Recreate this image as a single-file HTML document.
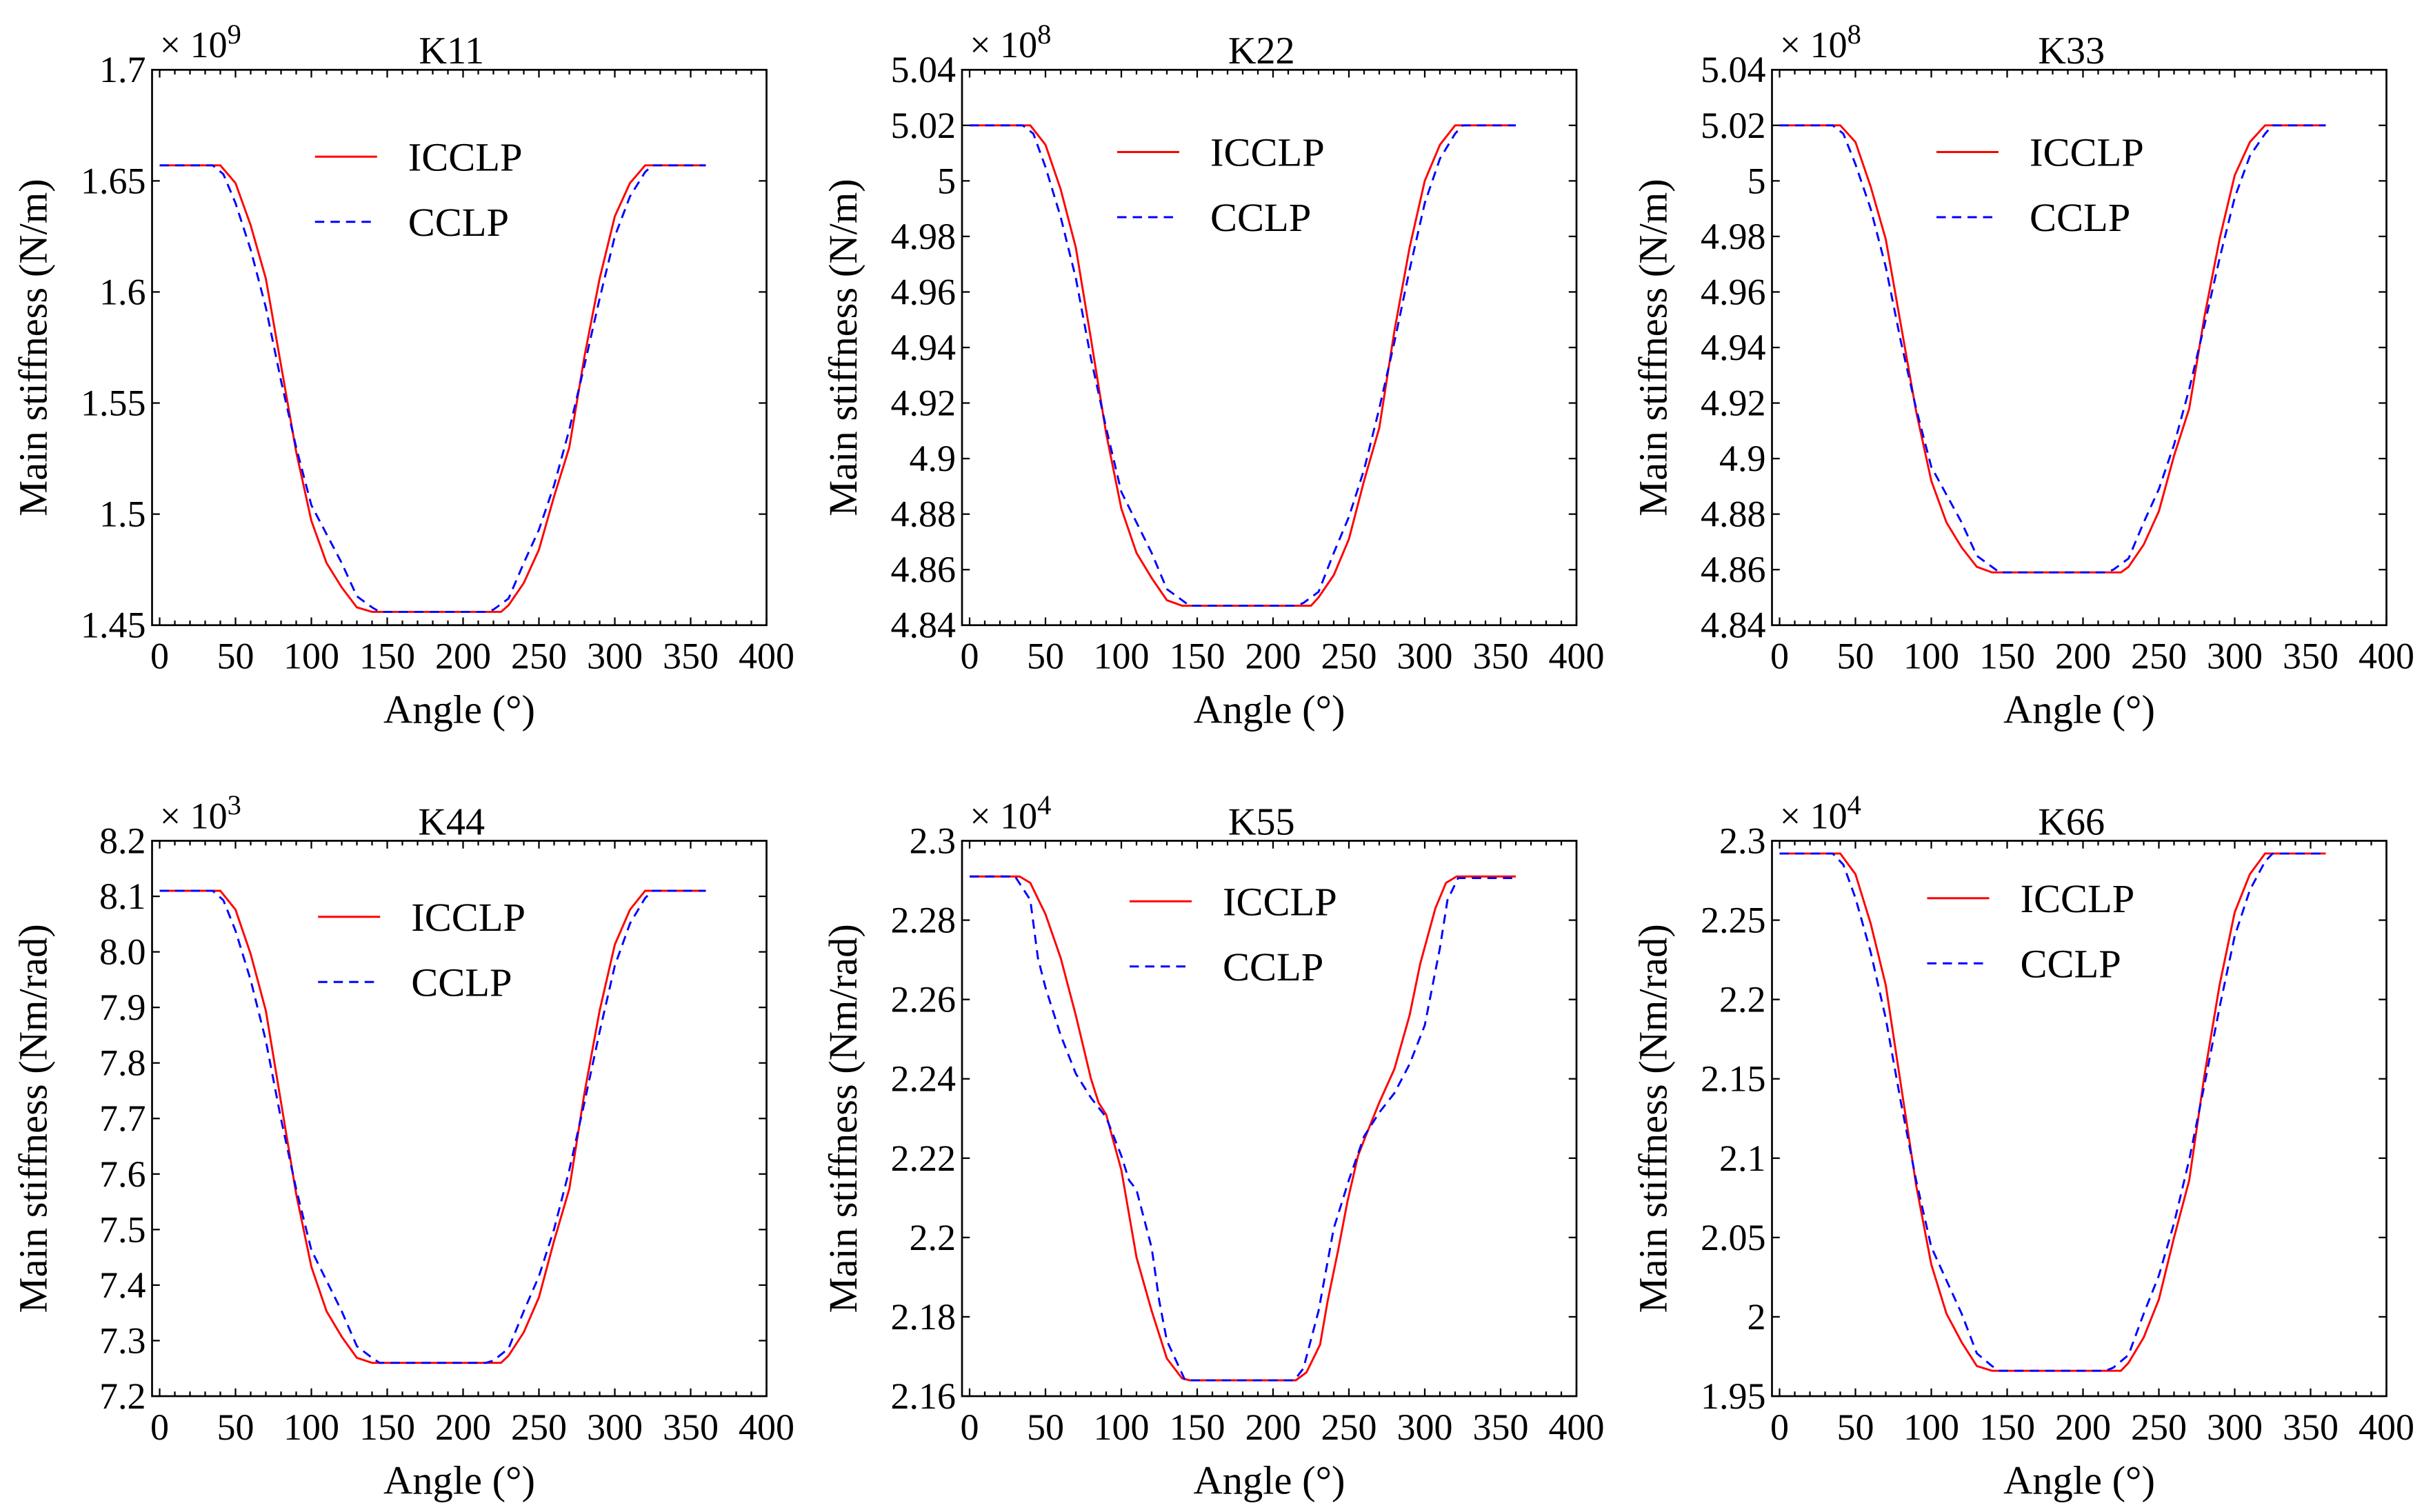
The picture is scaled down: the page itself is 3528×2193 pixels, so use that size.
<!DOCTYPE html>
<html><head><meta charset="utf-8">
<style>html,body{margin:0;padding:0;background:#fff}svg{display:block}</style>
</head><body style="font-family:'Liberation Serif',serif">
<svg id="fig" width="3528" height="2193" viewBox="0 0 1568 974.67" xmlns="http://www.w3.org/2000/svg" style="font-family:'Liberation Serif',serif"></svg>
<script>
// ---- shared angle grids ----
const angI = [0,40,50,60,70,80,90,100,110,120,130,140,225,230,240,250,260,270,280,290,300,310,320,360];
const angC = [0,35,42,50,60,70,80,90,100,110,120,130,140,145,215,220,230,240,250,260,270,280,290,300,310,320,325,360];
// ---- K11 ----
const k11I = [1.657,1.657,1.649,1.630,1.606,1.567,1.528,1.497,1.478,1.467,1.458,1.456,1.456,1.459,1.469,1.484,1.508,1.530,1.571,1.606,1.634,1.649,1.657,1.657];
const k11C = [1.657,1.657,1.653,1.640,1.619,1.593,1.560,1.530,1.504,1.491,1.478,1.463,1.458,1.456,1.456,1.457,1.462,1.478,1.493,1.513,1.538,1.567,1.597,1.625,1.643,1.654,1.657,1.657];
const k11Ticks = [1.45,1.5,1.55,1.6,1.65,1.7];
const k11Labels = ["1.45","1.5","1.55","1.6","1.65","1.7"];
// ---- K22 ----
const k22I = [5.020,5.020,5.013,4.997,4.976,4.943,4.909,4.882,4.866,4.857,4.849,4.847,4.847,4.850,4.858,4.871,4.892,4.911,4.946,4.976,5.000,5.013,5.020,5.020];
const k22C = [5.020,5.020,5.017,5.005,4.987,4.965,4.936,4.911,4.888,4.877,4.866,4.853,4.849,4.847,4.847,4.848,4.852,4.866,4.879,4.896,4.918,4.942,4.968,4.992,5.008,5.017,5.020,5.020];
const k22Ticks = [4.84,4.86,4.88,4.9,4.92,4.94,4.96,4.98,5,5.02,5.04];
const k22Labels = ["4.84","4.86","4.88","4.9","4.92","4.94","4.96","4.98","5","5.02","5.04"];
// ---- K33 ----
const k33I = [5.020,5.020,5.014,4.998,4.979,4.948,4.917,4.892,4.877,4.868,4.861,4.859,4.859,4.861,4.869,4.881,4.901,4.918,4.951,4.979,5.002,5.014,5.020,5.020];
const k33C = [5.020,5.020,5.017,5.006,4.990,4.969,4.942,4.918,4.897,4.887,4.877,4.865,4.861,4.859,4.859,4.860,4.864,4.877,4.889,4.905,4.925,4.948,4.972,4.994,5.009,5.017,5.020,5.020];
// ---- K44 ----
const k44I = [8.110,8.110,8.076,7.996,7.894,7.729,7.564,7.433,7.353,7.307,7.269,7.260,7.260,7.273,7.315,7.378,7.480,7.573,7.746,7.894,8.013,8.076,8.110,8.110];
const k44C = [8.110,8.110,8.093,8.038,7.949,7.840,7.699,7.573,7.463,7.408,7.353,7.290,7.269,7.260,7.260,7.264,7.286,7.353,7.416,7.501,7.607,7.729,7.856,7.975,8.051,8.097,8.110,8.110];
const k44Ticks = [7.2,7.3,7.4,7.5,7.6,7.7,7.8,7.9,8.0,8.1,8.2];
const k44Labels = ["7.2","7.3","7.4","7.5","7.6","7.7","7.8","7.9","8.0","8.1","8.2"];
// ---- K55 ----
const k55AngI = [0,33,40,50,60,70,80,85,90,95,100,105,110,120,130,140,145,215,222,231,236,243,249,256,261,270,280,290,297,307,314,321,360];
const k55I = [2.291,2.291,2.2894,2.2815,2.2705,2.256,2.240,2.234,2.231,2.224,2.217,2.206,2.195,2.1815,2.1695,2.1645,2.164,2.164,2.166,2.173,2.184,2.197,2.209,2.2206,2.2255,2.234,2.2425,2.256,2.269,2.283,2.2894,2.291,2.291];
const k55AngC = [0,30,40,45,50,60,70,80,90,100,105,110,120,125,130,140,142,214,220,230,240,250,260,270,280,290,300,310,315,322,360];
const k55C = [2.291,2.291,2.2851,2.2705,2.263,2.251,2.2413,2.2352,2.2303,2.2206,2.2145,2.212,2.1974,2.184,2.174,2.1657,2.164,2.164,2.167,2.1815,2.2023,2.2145,2.2255,2.2315,2.2364,2.2437,2.2535,2.273,2.2851,2.2906,2.2906];
const k55Ticks = [2.16,2.18,2.2,2.22,2.24,2.26,2.28,2.3];
const k55Labels = ["2.16","2.18","2.2","2.22","2.24","2.26","2.28","2.3"];
// ---- K66 ----
const k66I = [2.292,2.292,2.279,2.248,2.209,2.146,2.083,2.033,2.002,1.984,1.969,1.966,1.966,1.971,1.987,2.011,2.050,2.086,2.152,2.209,2.255,2.279,2.292,2.292];
const k66C = [2.292,2.292,2.285,2.264,2.230,2.188,2.135,2.086,2.044,2.023,2.002,1.977,1.969,1.966,1.966,1.968,1.976,2.002,2.026,2.059,2.099,2.146,2.195,2.240,2.269,2.287,2.292,2.292];
const k66Ticks = [1.95,2,2.05,2.1,2.15,2.2,2.25,2.3];
const k66Labels = ["1.95","2","2.05","2.1","2.15","2.2","2.25","2.3"];
const xTicks = [0,50,100,150,200,250,300,350,400];
const xLabels = ["0","50","100","150","200","250","300","350","400"];

const NS = "http://www.w3.org/2000/svg";
const svg = document.getElementById('fig');
const FONT = "font-family:'Liberation Serif','Times New Roman',serif";
function mk(tag, attrs, parent, txt){
  const e = document.createElementNS(NS, tag);
  for (const k in attrs) e.setAttribute(k, attrs[k]);
  if (tag === 'text') e.setAttribute('style', FONT);
  if (txt !== undefined) e.textContent = txt;
  parent.appendChild(e);
  return e;
}
function panel(p){
  const g = mk('g', {}, svg);
  
  
  const L=p.x0, R=p.x1, T=p.y0, B=p.y1;
  const xs = v => L + (v + 5) / 405 * (R - L);
  const ys = v => B - (v - p.ymin) / (p.ymax - p.ymin) * (B - T);
  const mkLine = (ang, val, color, dash, name) => {
    let d = '';
    for (let i = 0; i < ang.length; i++) d += (i ? 'L' : 'M') + xs(ang[i]).toFixed(2) + ' ' + ys(val[i]).toFixed(2);
    const a = {d: d, fill: 'none', stroke: color, 'stroke-width': 1.3};
    if (dash) a['stroke-dasharray'] = dash;
    const el = mk('path', a, g);
    
    
  };
  mkLine(p.angI, p.I, '#ff0000', null, p.id + '-icclp-line');
  mkLine(p.angC, p.C, '#0000ff', '6 4', p.id + '-cclp-line');
  const box = mk('rect', {x: L, y: T, width: R - L, height: B - T, fill: 'none', stroke: '#000', 'stroke-width': 1.2}, g);
  
  
  for (let v = 0; v <= 400; v += 10) {
    const x = xs(v), len = (v % 50 === 0) ? 5 : 3;
    mk('line', {x1: x, x2: x, y1: B, y2: B - len, stroke: '#000', 'stroke-width': 1}, g);
    mk('line', {x1: x, x2: x, y1: T, y2: T + len, stroke: '#000', 'stroke-width': 1}, g);
  }
  xTicks.forEach((v, i) => {
    const t = mk('text', {x: xs(v), y: B + 28, 'font-size': 24, 'text-anchor': 'middle'}, g, xLabels[i]);
    
    
  });
  p.yt.forEach((v, i) => {
    const y = ys(v);
    mk('line', {x1: L, x2: L + 5, y1: y, y2: y, stroke: '#000', 'stroke-width': 1}, g);
    mk('line', {x1: R, x2: R - 5, y1: y, y2: y, stroke: '#000', 'stroke-width': 1}, g);
    const t = mk('text', {x: L - 4, y: y + 8, 'font-size': 24, 'text-anchor': 'end'}, g, p.yl[i]);
    
    
  });
  const xt = mk('text', {x: (L + R) / 2, y: B + 63, 'font-size': 26, 'text-anchor': 'middle'}, g, 'Angle (°)');
  
  
  const cy = (T + B) / 2, cx = L - 68;
  const yt = mk('text', {x: cx, y: cy, 'font-size': 26, 'text-anchor': 'middle', transform: `rotate(-90 ${cx} ${cy})`}, g, p.ytitle);
  
  
  const ti = mk('text', {x: (L + R) / 2 - 5, y: T - 4, 'font-size': 25, 'text-anchor': 'middle'}, g, p.id.toUpperCase());
  
  
  const ex = mk('text', {x: L + 5, y: T - 8, 'font-size': 24}, g, '× 10');
  
  
  mk('tspan', {dy: -9, 'font-size': 18}, ex, p.exp);
  const lg = mk('g', {}, g);
  
  
  mk('line', {x1: p.lx, x2: p.lx + 40, y1: p.ly, y2: p.ly, stroke: '#ff0000', 'stroke-width': 1.3}, lg);
  mk('text', {x: p.lx + 60, y: p.ly + 9, 'font-size': 26}, lg, 'ICCLP');
  mk('line', {x1: p.lx, x2: p.lx + 40, y1: p.ly + 42, y2: p.ly + 42, stroke: '#0000ff', 'stroke-width': 1.3, 'stroke-dasharray': '6 4'}, lg);
  mk('text', {x: p.lx + 60, y: p.ly + 51, 'font-size': 26}, lg, 'CCLP');
}
const cols = [[98, 494], [620, 1016], [1142, 1538]];
const rows = [[45, 403], [542, 900]];
const N = 'Main stiffness (N/m)', M = 'Main stiffness (Nm/rad)';
panel({id:'k11', x0:cols[0][0], x1:cols[0][1], y0:rows[0][0], y1:rows[0][1], ymin:1.45, ymax:1.7, yt:k11Ticks, yl:k11Labels, angI:angI, I:k11I, angC:angC, C:k11C, exp:'9', ytitle:N, lx:203, ly:101});
panel({id:'k22', x0:cols[1][0], x1:cols[1][1], y0:rows[0][0], y1:rows[0][1], ymin:4.84, ymax:5.04, yt:k22Ticks, yl:k22Labels, angI:angI, I:k22I, angC:angC, C:k22C, exp:'8', ytitle:N, lx:720, ly:98});
panel({id:'k33', x0:cols[2][0], x1:cols[2][1], y0:rows[0][0], y1:rows[0][1], ymin:4.84, ymax:5.04, yt:k22Ticks, yl:k22Labels, angI:angI, I:k33I, angC:angC, C:k33C, exp:'8', ytitle:N, lx:1248, ly:98});
panel({id:'k44', x0:cols[0][0], x1:cols[0][1], y0:rows[1][0], y1:rows[1][1], ymin:7.2, ymax:8.2, yt:k44Ticks, yl:k44Labels, angI:angI, I:k44I, angC:angC, C:k44C, exp:'3', ytitle:M, lx:205, ly:591});
panel({id:'k55', x0:cols[1][0], x1:cols[1][1], y0:rows[1][0], y1:rows[1][1], ymin:2.16, ymax:2.3, yt:k55Ticks, yl:k55Labels, angI:k55AngI, I:k55I, angC:k55AngC, C:k55C, exp:'4', ytitle:M, lx:728, ly:581});
panel({id:'k66', x0:cols[2][0], x1:cols[2][1], y0:rows[1][0], y1:rows[1][1], ymin:1.95, ymax:2.3, yt:k66Ticks, yl:k66Labels, angI:angI, I:k66I, angC:angC, C:k66C, exp:'4', ytitle:M, lx:1242, ly:579});
</script>
</body></html>
